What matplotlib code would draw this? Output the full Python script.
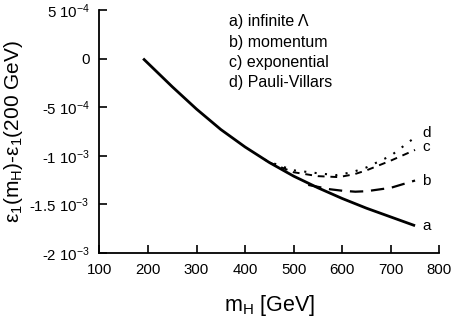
import matplotlib
matplotlib.use("Agg")
import matplotlib.pyplot as plt
import numpy as np

plt.rcParams['font.family'] = ['Liberation Sans', 'DejaVu Sans']
plt.rcParams['mathtext.fontset'] = 'custom'
plt.rcParams['mathtext.rm'] = 'Liberation Sans'
plt.rcParams['mathtext.it'] = 'Liberation Sans:italic'
plt.rcParams['mathtext.sf'] = 'Liberation Sans'

# Data (values in units of 1e-3)
mH_a = [190, 250, 300, 350, 400, 450, 500, 550, 600, 650, 700, 750]
eps_a = [0.0, -0.29, -0.52, -0.73, -0.91, -1.07, -1.21, -1.33, -1.44, -1.54, -1.63, -1.72]

mH_b = [530, 550, 575, 600, 627, 650, 700, 750]
eps_b = [-1.30, -1.32, -1.345, -1.36, -1.37, -1.365, -1.33, -1.255]

mH_c = [450, 475, 500, 550, 593, 625, 650, 700, 750]
eps_c = [-1.07, -1.12, -1.17, -1.21, -1.22, -1.19, -1.15, -1.05, -0.94]

mH_d = [440, 470, 500, 550, 587, 620, 650, 700, 750]
eps_d = [-1.04, -1.10, -1.15, -1.18, -1.20, -1.17, -1.12, -1.00, -0.81]

yticks = [5e-4, 0, -5e-4, -1e-3, -1.5e-3, -2e-3]
ytick_labels = ["5 10$^{-4}$", "0", "-5 10$^{-4}$", "-1 10$^{-3}$", "-1.5 10$^{-3}$", "-2 10$^{-3}$"]
xticks = [100, 200, 300, 400, 500, 600, 700, 800]

legend_lines = ["a) infinite Λ", "b) momentum", "c) exponential", "d) Pauli-Villars"]
curve_labels = ["a", "b", "c", "d"]

fig = plt.figure(figsize=(4.52, 3.23), dpi=100)
ax = fig.add_axes([0.220, 0.217, 0.752, 0.752])

sc = 1e-3
ax.plot(mH_a, np.array(eps_a) * sc, color='black', lw=2.0, solid_capstyle='butt')
ax.plot(mH_b, np.array(eps_b) * sc, color='black', lw=1.6, dashes=(6, 3.5))
ax.plot(mH_c, np.array(eps_c) * sc, color='black', lw=1.4, dashes=(3.5, 3))
ax.plot(mH_d, np.array(eps_d) * sc, color='black', lw=1.5, dashes=(1, 4))

# curve labels at right end
ends = [eps_a[-1], eps_b[-1], eps_c[-1], eps_d[-1]]
offs = [0.0, -0.01, 0.035, 0.04]
for lab, e, o in zip(curve_labels, ends, offs):
    ax.text(765, (e + o) * sc, lab, fontsize=11, va='center', ha='left')

for i, t in enumerate(legend_lines):
    ax.text(0.382, 0.951 - i * 0.0835, t, transform=ax.transAxes, fontsize=11.5,
            va='center', ha='left')

ax.set_xlim(100, 800)
ax.set_ylim(-2e-3, 5e-4)
ax.set_xticks(xticks)
ax.set_xticklabels([str(x) for x in xticks])
ax.set_yticks(yticks)
ax.set_yticklabels(ytick_labels)
ax.tick_params(direction='in', length=6, width=1.2, labelsize=10.8, pad=7)
for s in ['top', 'right']:
    ax.spines[s].set_visible(False)
for s in ['left', 'bottom']:
    ax.spines[s].set_linewidth(1.3)

ax.set_xlabel("m$_\\mathrm{H}$ [GeV]", fontsize=15.5, labelpad=12)
ax.set_ylabel("ε$_1$(m$_\\mathrm{H}$)-ε$_1$(200 GeV)", fontsize=15, labelpad=3)

fig.savefig("out.png", dpi=100)
